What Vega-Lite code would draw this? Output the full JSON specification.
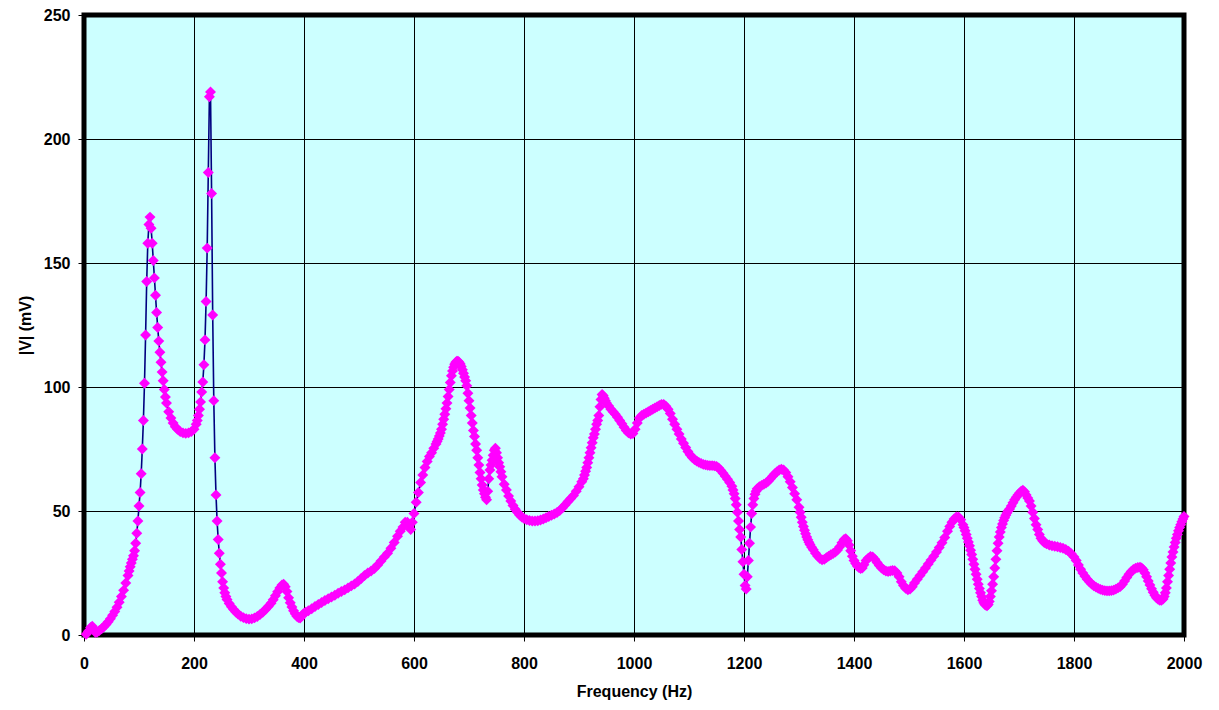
{
  "$schema": "https://vega.github.io/schema/vega-lite/v6.json",
  "width": 1100,
  "height": 620,
  "autosize": {"type": "none"},
  "padding": {"left": 84, "top": 15, "right": 35, "bottom": 75},
  "background": "white",
  "config": {
    "view": {"fill": "#CCFFFF", "stroke": "black", "strokeWidth": 5},
    "axis": {
      "grid": true, "gridColor": "black", "gridWidth": 1, "gridOpacity": 1,
      "domain": false, "tickColor": "black", "tickSize": 6, "tickWidth": 1,
      "labelFont": "Liberation Sans", "labelFontWeight": "bold", "labelFontSize": 16, "labelColor": "black",
      "titleFont": "Liberation Sans", "titleFontWeight": "bold", "titleFontSize": 16, "titleColor": "black",
      "labelFlush": false, "labelOverlap": false, "format": "d"
    }
  },
  "datasets": {
    "d": [
{"f":4,"v":0.3},{"f":8,"v":1.5},{"f":12,"v":3},{"f":15,"v":3.5},{"f":18,"v":2},{"f":21,"v":1},{"f":24,"v":1.2},{"f":28,"v":1.8},{"f":32,"v":2.5},{"f":36,"v":3.3},{"f":40,"v":4.2},{"f":44,"v":5.3},{"f":48,"v":6.6},{"f":52,"v":8},{"f":56,"v":9.5},{"f":60,"v":11.2},{"f":64,"v":13.2},{"f":68,"v":15.5},{"f":72,"v":18},{"f":76,"v":21},{"f":80,"v":24},{"f":82,"v":25.8},{"f":84,"v":27.5},{"f":86,"v":29},{"f":88,"v":30.5},{"f":90,"v":32},{"f":92,"v":34},{"f":94,"v":37},{"f":96,"v":41},{"f":98,"v":46},{"f":100,"v":52},{"f":102,"v":57.5},{"f":104,"v":65},{"f":106,"v":75},{"f":108,"v":86.5},{"f":110,"v":101.5},{"f":112,"v":121},{"f":114,"v":142.5},{"f":116,"v":158},{"f":118,"v":165.5},{"f":120,"v":168.5},{"f":122,"v":164},{"f":124,"v":158},{"f":126,"v":151},{"f":128,"v":144},{"f":130,"v":137},{"f":132,"v":130},{"f":134,"v":124},{"f":136,"v":118.5},{"f":138,"v":114},{"f":140,"v":110},{"f":142,"v":106},{"f":144,"v":102.5},{"f":146,"v":99},{"f":148,"v":96},{"f":150,"v":93.5},{"f":154,"v":90},{"f":158,"v":87.5},{"f":162,"v":85.5},{"f":166,"v":84},{"f":170,"v":83},{"f":175,"v":82},{"f":180,"v":81.5},{"f":185,"v":81.3},{"f":190,"v":81.5},{"f":195,"v":82},{"f":200,"v":83},{"f":204,"v":85},{"f":206,"v":86.5},{"f":208,"v":88.5},{"f":210,"v":91},{"f":212,"v":94},{"f":214,"v":98},{"f":216,"v":102},{"f":218,"v":109},{"f":220,"v":119},{"f":222,"v":134.5},{"f":224,"v":156},{"f":226,"v":186.5},{"f":228,"v":217},{"f":230,"v":219},{"f":232,"v":178},{"f":234,"v":129},{"f":236,"v":94.5},{"f":238,"v":71.5},{"f":240,"v":56.5},{"f":242,"v":46},{"f":244,"v":38.5},{"f":246,"v":33},{"f":248,"v":28.5},{"f":250,"v":25},{"f":252,"v":21.5},{"f":254,"v":19},{"f":256,"v":17},{"f":258,"v":15.5},{"f":260,"v":14.3},{"f":264,"v":12.7},{"f":268,"v":11.4},{"f":272,"v":10.3},{"f":276,"v":9.3},{"f":280,"v":8.5},{"f":285,"v":7.6},{"f":290,"v":7},{"f":295,"v":6.6},{"f":300,"v":6.4},{"f":305,"v":6.5},{"f":310,"v":6.9},{"f":315,"v":7.5},{"f":320,"v":8.3},{"f":325,"v":9.2},{"f":330,"v":10.3},{"f":335,"v":11.5},{"f":340,"v":12.8},{"f":344,"v":14.2},{"f":348,"v":15.8},{"f":352,"v":17.4},{"f":356,"v":19},{"f":360,"v":20.2},{"f":363,"v":20.5},{"f":366,"v":19.5},{"f":369,"v":17.5},{"f":372,"v":15},{"f":375,"v":13},{"f":378,"v":11.3},{"f":381,"v":9.8},{"f":384,"v":8.6},{"f":387,"v":7.6},{"f":390,"v":7},{"f":393,"v":6.8},{"f":396,"v":7.8},{"f":399,"v":8.6},{"f":403,"v":9.2},{"f":408,"v":9.8},{"f":414,"v":10.6},{"f":420,"v":11.5},{"f":426,"v":12.3},{"f":432,"v":13.1},{"f":438,"v":13.9},{"f":444,"v":14.6},{"f":450,"v":15.3},{"f":456,"v":16},{"f":462,"v":16.8},{"f":468,"v":17.5},{"f":474,"v":18.2},{"f":480,"v":19},{"f":486,"v":19.8},{"f":492,"v":20.6},{"f":498,"v":21.6},{"f":504,"v":22.8},{"f":510,"v":24},{"f":516,"v":25},{"f":522,"v":25.8},{"f":528,"v":26.8},{"f":534,"v":28.2},{"f":540,"v":29.8},{"f":546,"v":31.5},{"f":552,"v":33},{"f":558,"v":35},{"f":564,"v":37.3},{"f":570,"v":39.8},{"f":575,"v":41.8},{"f":580,"v":43.5},{"f":584,"v":45.5},{"f":588,"v":45.5},{"f":591,"v":44},{"f":594,"v":42.5},{"f":597,"v":45.5},{"f":600,"v":49},{"f":604,"v":53.5},{"f":608,"v":57.5},{"f":612,"v":61.5},{"f":616,"v":64.5},{"f":620,"v":67.5},{"f":624,"v":70},{"f":628,"v":72},{"f":632,"v":73.5},{"f":636,"v":75.3},{"f":640,"v":77},{"f":642,"v":78},{"f":644,"v":79},{"f":646,"v":80.2},{"f":648,"v":81.5},{"f":650,"v":83},{"f":652,"v":85},{"f":654,"v":87},{"f":656,"v":89},{"f":658,"v":91.2},{"f":660,"v":93.5},{"f":662,"v":96.2},{"f":664,"v":99},{"f":666,"v":101.8},{"f":668,"v":104.5},{"f":670,"v":106.5},{"f":672,"v":108},{"f":674,"v":109.2},{"f":676,"v":110},{"f":678,"v":110.4},{"f":680,"v":110.4},{"f":682,"v":110},{"f":684,"v":109.3},{"f":686,"v":108.3},{"f":688,"v":107},{"f":690,"v":105.5},{"f":692,"v":104},{"f":694,"v":102.5},{"f":696,"v":100.5},{"f":698,"v":97.5},{"f":700,"v":94.5},{"f":702,"v":91.5},{"f":704,"v":88.5},{"f":706,"v":85.5},{"f":708,"v":82.5},{"f":710,"v":80},{"f":712,"v":77},{"f":714,"v":74.5},{"f":716,"v":71.5},{"f":718,"v":68.5},{"f":720,"v":65.5},{"f":722,"v":63},{"f":724,"v":60.5},{"f":726,"v":58.5},{"f":728,"v":57},{"f":730,"v":55.5},{"f":732,"v":54.5},{"f":734,"v":58},{"f":736,"v":63},{"f":738,"v":66.5},{"f":740,"v":68.5},{"f":742,"v":70.5},{"f":744,"v":72.5},{"f":746,"v":74.5},{"f":748,"v":75.3},{"f":750,"v":73.5},{"f":752,"v":71.5},{"f":754,"v":69.5},{"f":756,"v":67.8},{"f":758,"v":65.8},{"f":760,"v":63.8},{"f":764,"v":60.8},{"f":768,"v":58.5},{"f":772,"v":56},{"f":776,"v":54},{"f":780,"v":52.2},{"f":784,"v":50.7},{"f":788,"v":49.5},{"f":792,"v":48.4},{"f":796,"v":47.6},{"f":800,"v":47},{"f":805,"v":46.5},{"f":810,"v":46.2},{"f":815,"v":46},{"f":820,"v":46},{"f":825,"v":46.1},{"f":830,"v":46.4},{"f":835,"v":46.8},{"f":840,"v":47.3},{"f":845,"v":47.8},{"f":850,"v":48.3},{"f":855,"v":48.8},{"f":860,"v":49.4},{"f":865,"v":50.2},{"f":870,"v":51.3},{"f":875,"v":52.5},{"f":880,"v":53.8},{"f":885,"v":55},{"f":890,"v":56.3},{"f":895,"v":58},{"f":900,"v":59.8},{"f":905,"v":61.8},{"f":908,"v":63},{"f":910,"v":64.5},{"f":912,"v":66},{"f":914,"v":67.5},{"f":916,"v":69.5},{"f":918,"v":71.5},{"f":920,"v":73.5},{"f":922,"v":75.5},{"f":924,"v":77.5},{"f":926,"v":79.5},{"f":928,"v":81},{"f":930,"v":83},{"f":932,"v":85},{"f":934,"v":86.5},{"f":936,"v":88.5},{"f":938,"v":92},{"f":940,"v":95},{"f":942,"v":97},{"f":944,"v":96.5},{"f":946,"v":95.5},{"f":948,"v":94.5},{"f":950,"v":93.5},{"f":954,"v":92.3},{"f":958,"v":91},{"f":962,"v":90},{"f":966,"v":89},{"f":970,"v":87.8},{"f":974,"v":86.5},{"f":978,"v":85.2},{"f":982,"v":83.8},{"f":986,"v":82.5},{"f":990,"v":81.5},{"f":994,"v":81},{"f":998,"v":81.2},{"f":1002,"v":83},{"f":1006,"v":85.5},{"f":1010,"v":87.5},{"f":1014,"v":88.5},{"f":1018,"v":89},{"f":1022,"v":89.5},{"f":1026,"v":90},{"f":1030,"v":90.5},{"f":1034,"v":91},{"f":1038,"v":91.5},{"f":1042,"v":92},{"f":1046,"v":92.5},{"f":1050,"v":93},{"f":1054,"v":93},{"f":1058,"v":92.2},{"f":1062,"v":91},{"f":1066,"v":89.3},{"f":1070,"v":87},{"f":1074,"v":85},{"f":1078,"v":83},{"f":1082,"v":81},{"f":1086,"v":79},{"f":1090,"v":77.3},{"f":1094,"v":75.6},{"f":1098,"v":74},{"f":1102,"v":72.7},{"f":1106,"v":71.6},{"f":1110,"v":70.8},{"f":1114,"v":70.2},{"f":1118,"v":69.6},{"f":1122,"v":69.2},{"f":1126,"v":68.8},{"f":1130,"v":68.6},{"f":1134,"v":68.4},{"f":1138,"v":68.3},{"f":1142,"v":68.3},{"f":1146,"v":68.2},{"f":1150,"v":68},{"f":1154,"v":67.3},{"f":1158,"v":66.3},{"f":1162,"v":65.2},{"f":1166,"v":64},{"f":1170,"v":62.8},{"f":1174,"v":61.5},{"f":1178,"v":60},{"f":1180,"v":58.5},{"f":1182,"v":57},{"f":1184,"v":55},{"f":1186,"v":52.5},{"f":1188,"v":49.5},{"f":1190,"v":46},{"f":1192,"v":42.5},{"f":1194,"v":39.5},{"f":1196,"v":34.5},{"f":1198,"v":29.5},{"f":1200,"v":24.5},{"f":1202,"v":20},{"f":1204,"v":18.5},{"f":1206,"v":23.5},{"f":1208,"v":30},{"f":1210,"v":37},{"f":1212,"v":43.5},{"f":1214,"v":49},{"f":1216,"v":52.5},{"f":1218,"v":55},{"f":1220,"v":56.8},{"f":1222,"v":58},{"f":1224,"v":59},{"f":1228,"v":59.8},{"f":1232,"v":60.3},{"f":1236,"v":60.8},{"f":1240,"v":61.3},{"f":1244,"v":62},{"f":1248,"v":63},{"f":1252,"v":64},{"f":1256,"v":65},{"f":1260,"v":65.8},{"f":1264,"v":66.5},{"f":1268,"v":66.8},{"f":1272,"v":66.5},{"f":1276,"v":65.5},{"f":1280,"v":63.8},{"f":1284,"v":61.8},{"f":1288,"v":59.5},{"f":1292,"v":57},{"f":1296,"v":54.5},{"f":1300,"v":51.5},{"f":1302,"v":49.5},{"f":1304,"v":47.5},{"f":1306,"v":45.5},{"f":1308,"v":43.8},{"f":1310,"v":42.2},{"f":1312,"v":40.8},{"f":1314,"v":39.5},{"f":1316,"v":38.4},{"f":1318,"v":37.4},{"f":1320,"v":36.5},{"f":1323,"v":35.4},{"f":1326,"v":34.4},{"f":1330,"v":33},{"f":1334,"v":31.8},{"f":1338,"v":30.8},{"f":1342,"v":30.3},{"f":1346,"v":30.5},{"f":1350,"v":31.2},{"f":1354,"v":31.8},{"f":1358,"v":32.4},{"f":1362,"v":32.9},{"f":1366,"v":33.5},{"f":1370,"v":34.3},{"f":1374,"v":35.6},{"f":1378,"v":37.2},{"f":1382,"v":38.5},{"f":1385,"v":38.8},{"f":1388,"v":38},{"f":1391,"v":36.3},{"f":1394,"v":34},{"f":1397,"v":31.8},{"f":1400,"v":30},{"f":1403,"v":28.8},{"f":1406,"v":27.8},{"f":1409,"v":27.2},{"f":1412,"v":26.8},{"f":1415,"v":27},{"f":1418,"v":28.3},{"f":1422,"v":30},{"f":1426,"v":31},{"f":1430,"v":31.7},{"f":1434,"v":31.5},{"f":1438,"v":30.5},{"f":1442,"v":29.2},{"f":1446,"v":28},{"f":1450,"v":27},{"f":1454,"v":26.3},{"f":1458,"v":25.8},{"f":1462,"v":25.6},{"f":1466,"v":25.8},{"f":1470,"v":26},{"f":1474,"v":25.9},{"f":1478,"v":25},{"f":1482,"v":23.5},{"f":1486,"v":21.5},{"f":1490,"v":20},{"f":1494,"v":18.8},{"f":1498,"v":18.2},{"f":1502,"v":18.5},{"f":1506,"v":19.5},{"f":1510,"v":21},{"f":1515,"v":22.5},{"f":1520,"v":24},{"f":1525,"v":25.5},{"f":1530,"v":27},{"f":1535,"v":28.6},{"f":1540,"v":30.2},{"f":1545,"v":31.8},{"f":1550,"v":33.5},{"f":1555,"v":35.3},{"f":1560,"v":37.2},{"f":1565,"v":39.3},{"f":1570,"v":41.8},{"f":1574,"v":43.8},{"f":1578,"v":45.5},{"f":1582,"v":46.8},{"f":1586,"v":47.6},{"f":1590,"v":47.6},{"f":1594,"v":46.5},{"f":1598,"v":44.5},{"f":1600,"v":43.3},{"f":1602,"v":42},{"f":1604,"v":40.5},{"f":1606,"v":39},{"f":1608,"v":37.5},{"f":1610,"v":36},{"f":1612,"v":34.2},{"f":1614,"v":32.5},{"f":1616,"v":30.5},{"f":1618,"v":28.5},{"f":1620,"v":26.5},{"f":1622,"v":24.5},{"f":1624,"v":22.5},{"f":1626,"v":20.5},{"f":1628,"v":18.7},{"f":1630,"v":17},{"f":1632,"v":15.5},{"f":1634,"v":14},{"f":1636,"v":13},{"f":1638,"v":12.3},{"f":1640,"v":12},{"f":1642,"v":11.8},{"f":1644,"v":12.3},{"f":1646,"v":13.5},{"f":1648,"v":15.5},{"f":1650,"v":17.8},{"f":1652,"v":20.5},{"f":1654,"v":23.5},{"f":1656,"v":27},{"f":1658,"v":30.5},{"f":1660,"v":34},{"f":1662,"v":37},{"f":1664,"v":39.5},{"f":1666,"v":41.5},{"f":1668,"v":43.3},{"f":1670,"v":44.8},{"f":1672,"v":46.2},{"f":1674,"v":47.3},{"f":1676,"v":48.3},{"f":1678,"v":49.2},{"f":1680,"v":50},{"f":1683,"v":50.8},{"f":1686,"v":52},{"f":1689,"v":53.3},{"f":1692,"v":54.5},{"f":1695,"v":55.5},{"f":1698,"v":56.5},{"f":1701,"v":57.3},{"f":1704,"v":58},{"f":1707,"v":58.4},{"f":1710,"v":57.8},{"f":1713,"v":56.5},{"f":1716,"v":55.2},{"f":1719,"v":54},{"f":1722,"v":52},{"f":1725,"v":49.5},{"f":1728,"v":47},{"f":1731,"v":44.5},{"f":1734,"v":42.5},{"f":1737,"v":40.5},{"f":1740,"v":39},{"f":1743,"v":38},{"f":1746,"v":37.3},{"f":1750,"v":36.8},{"f":1755,"v":36.3},{"f":1760,"v":36},{"f":1765,"v":35.8},{"f":1770,"v":35.6},{"f":1775,"v":35.3},{"f":1780,"v":35},{"f":1785,"v":34.5},{"f":1790,"v":33.8},{"f":1795,"v":32.8},{"f":1800,"v":31.5},{"f":1804,"v":30},{"f":1808,"v":28.2},{"f":1812,"v":26.5},{"f":1816,"v":25},{"f":1820,"v":23.7},{"f":1824,"v":22.5},{"f":1828,"v":21.5},{"f":1832,"v":20.6},{"f":1836,"v":19.9},{"f":1840,"v":19.3},{"f":1844,"v":18.8},{"f":1848,"v":18.4},{"f":1852,"v":18.1},{"f":1856,"v":17.9},{"f":1860,"v":17.8},{"f":1864,"v":17.8},{"f":1868,"v":17.9},{"f":1872,"v":18.1},{"f":1876,"v":18.5},{"f":1880,"v":19},{"f":1884,"v":19.5},{"f":1888,"v":20.5},{"f":1892,"v":21.8},{"f":1896,"v":23.2},{"f":1900,"v":24.5},{"f":1904,"v":25.6},{"f":1908,"v":26.4},{"f":1912,"v":26.9},{"f":1916,"v":27.2},{"f":1920,"v":27.3},{"f":1923,"v":27},{"f":1926,"v":26.3},{"f":1929,"v":25},{"f":1932,"v":23.5},{"f":1935,"v":21.8},{"f":1938,"v":20.2},{"f":1941,"v":18.6},{"f":1944,"v":17.2},{"f":1947,"v":16},{"f":1950,"v":15},{"f":1953,"v":14.4},{"f":1956,"v":14},{"f":1959,"v":14},{"f":1962,"v":14.5},{"f":1964,"v":15.5},{"f":1966,"v":17},{"f":1968,"v":19},{"f":1970,"v":21.5},{"f":1972,"v":24},{"f":1974,"v":26.5},{"f":1976,"v":29},{"f":1978,"v":31.5},{"f":1980,"v":33.5},{"f":1982,"v":35.5},{"f":1984,"v":37.3},{"f":1986,"v":39},{"f":1988,"v":40.5},{"f":1990,"v":42},{"f":1992,"v":43.3},{"f":1994,"v":44.5},{"f":1996,"v":45.7},{"f":1998,"v":46.8},{"f":2000,"v":47.8}
    ]
  },
  "data": {"name": "d"},
  "encoding": {
    "x": {
      "field": "f", "type": "quantitative",
      "scale": {"domain": [0, 2000], "nice": false},
      "axis": {"title": "Frequency (Hz)", "values": [0,200,400,600,800,1000,1200,1400,1600,1800,2000], "labelPadding": 14, "titlePadding": 12}
    },
    "y": {
      "field": "v", "type": "quantitative",
      "scale": {"domain": [0, 250], "nice": false},
      "axis": {"title": "|V| (mV)", "values": [0,50,100,150,200,250], "labelPadding": 8, "titlePadding": 10}
    }
  },
  "layer": [
    {"mark": {"type": "line", "color": "#000080", "strokeWidth": 1.6}},
    {"mark": {"type": "point", "shape": "diamond", "filled": true, "color": "#FF00FF", "size": 120, "opacity": 1}}
  ]
}
